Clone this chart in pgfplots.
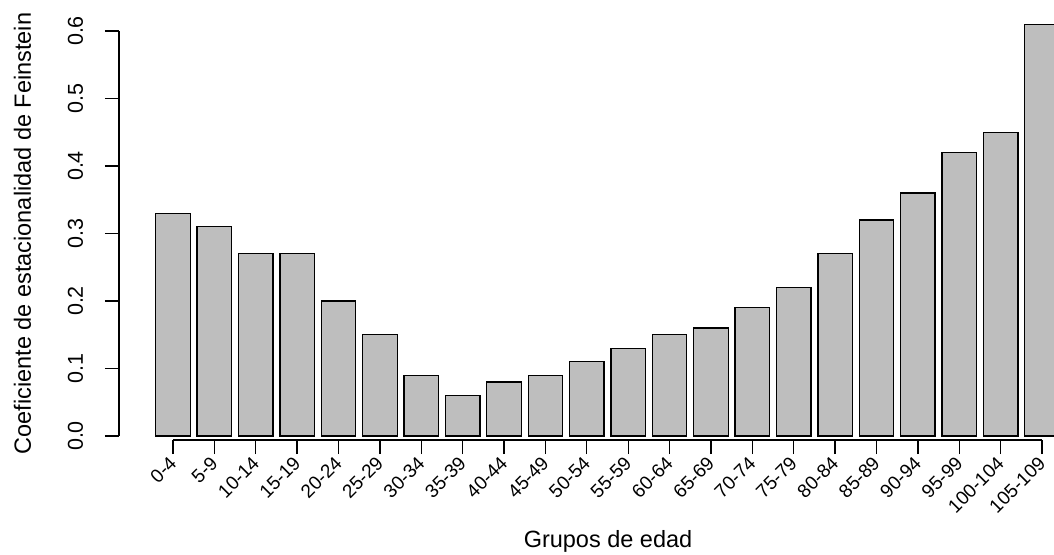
\documentclass[border=0pt]{standalone}
\usepackage{pgfplots}
\pgfplotsset{compat=1.18}
\usepackage{fontspec}
\setmainfont{Liberation Sans}
\definecolor{barg}{HTML}{BEBEBE}
\begin{document}
\begin{tikzpicture}
\useasboundingbox (0,0) rectangle (1054pt,554pt);
\begin{axis}[
 at={(173pt,118pt)}, anchor=south west,
 scale only axis, width=869pt, height=405pt,
 xmin=0, xmax=21, ymin=0, ymax=0.6,
 clip=false,
 axis x line*=bottom, axis y line*=left,
 axis x line shift=4pt, axis y line shift=54pt,
 axis line style={line width=1.3pt, -},
 tick align=outside, major tick length=14pt,
 tick style={line width=1.3pt, black},
 xtick={0,...,21},
 xticklabels={0-4,5-9,10-14,15-19,20-24,25-29,30-34,35-39,40-44,45-49,50-54,55-59,60-64,65-69,70-74,75-79,80-84,85-89,90-94,95-99,100-104,105-109},
 ytick={0,0.1,0.2,0.3,0.4,0.5,0.6},
 yticklabels={0.0,0.1,0.2,0.3,0.4,0.5,0.6},
 x tick label style={font=\fontsize{19}{23}\selectfont, rotate=45, anchor=east, inner sep=0pt},
 y tick label style={font=\fontsize{21.5}{25}\selectfont, rotate=90, anchor=base, inner sep=0pt},
 yticklabel shift=22pt,
 xticklabel shift=6pt,
 every axis x label/.style={at={(axis description cs:0.5006,-0.2765)}, anchor=base, font=\fontsize{23.5}{28}\selectfont},
 every axis y label/.style={at={(axis description cs:-0.1634,0.5)}, rotate=90, anchor=base, font=\fontsize{23.5}{28}\selectfont},
 xlabel={Grupos de edad},
 ylabel={Coeficiente de estacionalidad de Feinstein},
]
\addplot[ybar, bar width=34.5pt, fill=barg, draw=black, line width=1.3pt] coordinates {
(0,0.33) (1,0.31) (2,0.27) (3,0.27) (4,0.20) (5,0.15) (6,0.09) (7,0.06) (8,0.08) (9,0.09) (10,0.11)
(11,0.13) (12,0.15) (13,0.16) (14,0.19) (15,0.22) (16,0.27) (17,0.32) (18,0.36) (19,0.42) (20,0.45) (21,0.61)
};
\end{axis}
\end{tikzpicture}
\end{document}
